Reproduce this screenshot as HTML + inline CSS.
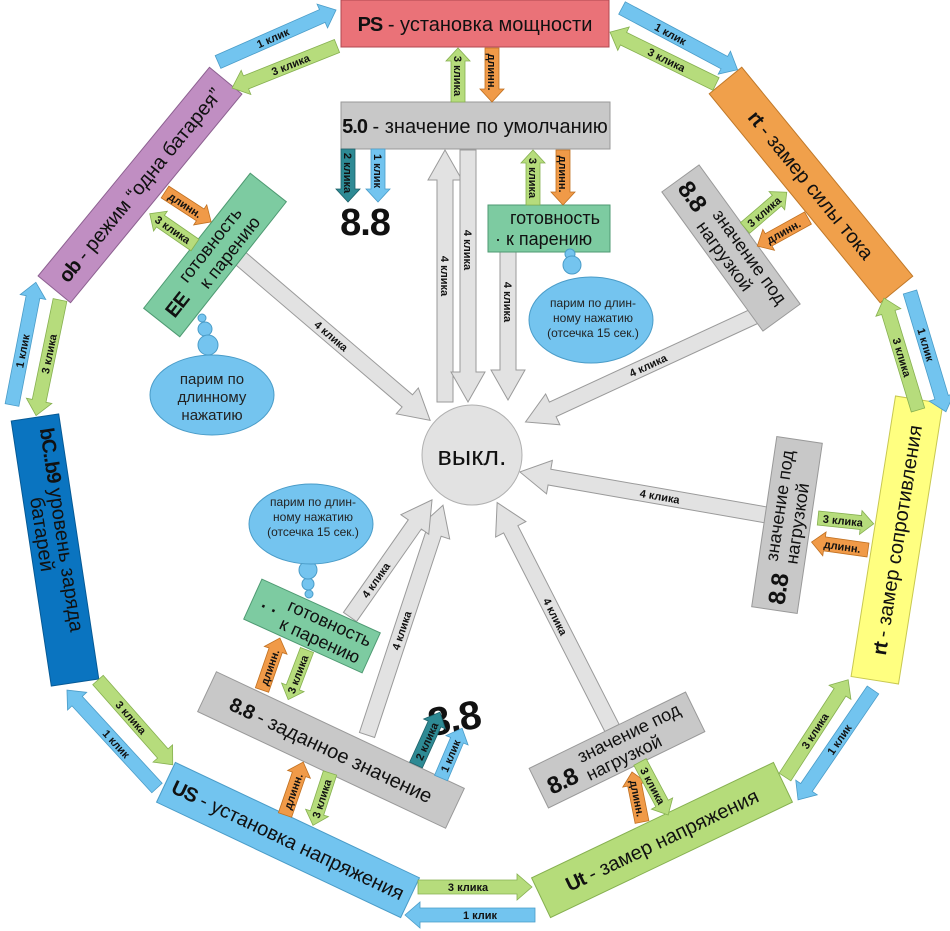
<!DOCTYPE html>
<html><head><meta charset="utf-8"><style>
html,body{margin:0;padding:0;background:#fff;}
svg{display:block;}
text{font-family:"Liberation Sans",sans-serif;}
.n{font-size:20px;fill:#111;}
.s{font-size:18px;fill:#111;}
.d{font-family:"Liberation Sans",sans-serif;font-weight:bold;letter-spacing:-1px;}
.a{font-size:11px;font-weight:bold;fill:#111;}
.bg{fill:#e2e2e2;stroke:#9a9a9a;stroke-width:1;}
.bl{fill:#72c4ef;stroke:#4a9cc8;stroke-width:0.8;}
.gr{fill:#b6dc7c;stroke:#86b050;stroke-width:0.8;}
.or{fill:#f09a48;stroke:#c07020;stroke-width:0.8;}
.te{fill:#2e8a94;stroke:#1c6068;stroke-width:0.8;}
.cl{fill:#74c4ef;stroke:#4a9cc8;stroke-width:1;}
</style></head><body>
<svg width="950" height="931" viewBox="0 0 950 931" xmlns="http://www.w3.org/2000/svg">

<!-- big gray arrows -->
<g transform="translate(445,402) rotate(-90)"><polygon class="bg" points="0,-8 222,-8 222,-17 252,0 222,17 222,8 0,8"/><text class="a" x="126" y="4" text-anchor="middle" transform="rotate(180 126 0)">4 клика</text></g>
<g transform="translate(468,150) rotate(90)"><polygon class="bg" points="0,-8 222,-8 222,-17 252,0 222,17 222,8 0,8"/><text class="a" x="100" y="4" text-anchor="middle">4 клика</text></g>
<g transform="translate(508,252) rotate(90)"><polygon class="bg" points="0,-8 118,-8 118,-17 148,0 118,17 118,8 0,8"/><text class="a" x="50" y="4" text-anchor="middle">4 клика</text></g>
<g transform="translate(240,258) rotate(40.5)"><polygon class="bg" points="0,-8 220,-8 220,-17 250,0 220,17 220,8 0,8"/><text class="a" x="120" y="4" text-anchor="middle">4 клика</text></g>
<g transform="translate(757,315) rotate(155.2)"><polygon class="bg" points="0,-8 225,-8 225,-17 255,0 225,17 225,8 0,8"/><text class="a" x="120" y="4" text-anchor="middle" transform="rotate(180 120 0)">4 клика</text></g>
<g transform="translate(778,517) rotate(189.9)"><polygon class="bg" points="0,-8 232,-8 232,-17 262,0 232,17 232,8 0,8"/><text class="a" x="120" y="4" text-anchor="middle" transform="rotate(180 120 0)">4 клика</text></g>
<g transform="translate(612,728) rotate(-117)"><polygon class="bg" points="0,-8 223,-8 223,-17 253,0 223,17 223,8 0,8"/><text class="a" x="125" y="4" text-anchor="middle" transform="rotate(180 125 0)">4 клика</text></g>
<g transform="translate(367,735) rotate(-71.7)"><polygon class="bg" points="0,-8 212,-8 212,-17 242,0 212,17 212,8 0,8"/><text class="a" x="110" y="4" text-anchor="middle">4 клика</text></g>
<g transform="translate(350,617) rotate(-55)"><polygon class="bg" points="0,-8 113,-8 113,-17 143,0 113,17 113,8 0,8"/><text class="a" x="45" y="4" text-anchor="middle">4 клика</text></g>

<!-- circle -->
<circle cx="472" cy="455" r="50" fill="#e2e2e2" stroke="#b0b0b0"/>
<text x="472" y="465" font-size="27" text-anchor="middle" fill="#111">выкл.</text>

<!-- main nodes -->
<rect x="341" y="0" width="268" height="47" fill="#ea7278" stroke="#b04850"/>
<text class="n" x="475" y="31" text-anchor="middle"><tspan class="d">PS</tspan> - установка мощности</text>

<rect x="341" y="102" width="269" height="47" fill="#c8c8c8" stroke="#999"/>
<text class="n" x="475" y="133" text-anchor="middle"><tspan class="d">5.0</tspan> - значение по умолчанию</text>

<g transform="translate(811,185) rotate(50.7)"><rect x="-135" y="-21" width="270" height="42" fill="#f0a04b" stroke="#c07828"/><text class="n" x="0" y="7" text-anchor="middle"><tspan class="d">rt</tspan> - замер силы тока</text></g>

<g transform="translate(897,540) rotate(-81)"><rect x="-142" y="-24" width="284" height="48" fill="#ffff80" stroke="#c8c850"/><text class="n" x="0" y="7" text-anchor="middle"><tspan class="d">rt</tspan> - замер сопротивления</text></g>

<g transform="translate(662,840) rotate(-25.5)"><rect x="-134" y="-22" width="268" height="44" fill="#b5dc7a" stroke="#86b050"/><text class="n" x="0" y="7" text-anchor="middle"><tspan class="d">Ut</tspan> - замер напряжения</text></g>

<g transform="translate(288,840) rotate(25.3)"><rect x="-135" y="-22" width="270" height="44" fill="#72c4ef" stroke="#4a9cc8"/><text class="n" x="0" y="7" text-anchor="middle"><tspan class="d">US</tspan> - установка напряжения</text></g>

<g transform="translate(55,550) rotate(81.4)"><rect x="-134" y="-24" width="268" height="48" fill="#0a74c0" stroke="#065a96"/><text class="n" x="-122" y="-3"><tspan class="d">bC..b9</tspan> уровень заряда</text><text class="n" x="-55" y="17">батарей</text></g>

<g transform="translate(140,185) rotate(-50.6)"><rect x="-135" y="-21" width="270" height="42" fill="#c08ec2" stroke="#8c6090"/><text class="n" x="0" y="7" text-anchor="middle"><tspan class="d">ob</tspan> - режим “одна батарея”</text></g>

<!-- sub nodes -->
<g transform="translate(215,255) rotate(-51.7)"><rect x="-86" y="-23" width="172" height="46" fill="#7dcba1" stroke="#4e9a72"/><text class="d" x="-75" y="8" font-size="20" fill="#111">EE</text><text class="s" x="-40" y="-4">готовность</text><text class="s" x="-32" y="16">к парению</text></g>

<rect x="488" y="205" width="122" height="47" fill="#7dcba1" stroke="#4e9a72"/>
<text class="s" x="510" y="224">готовность</text>
<text class="s" x="495" y="245">· к парению</text>

<g transform="translate(731,248) rotate(54)"><rect x="-86" y="-23" width="172" height="46" fill="#c8c8c8" stroke="#999"/><text class="d" x="-80" y="9" font-size="24" fill="#111">8.8</text><text class="s" x="-38" y="-4">значение под</text><text class="s" x="-38" y="16">нагрузкой</text></g>

<g transform="translate(787,525) rotate(-81.6)"><rect x="-86" y="-23" width="172" height="46" fill="#c8c8c8" stroke="#999"/><text class="d" x="-80" y="9" font-size="24" fill="#111">8.8</text><text class="s" x="-38" y="-4">значение под</text><text class="s" x="-38" y="16">нагрузкой</text></g>

<g transform="translate(617,750) rotate(-26)"><rect x="-87" y="-22" width="174" height="44" fill="#c8c8c8" stroke="#999"/><text class="d" x="-78" y="12" font-size="24" fill="#111">8.8</text><text class="s" x="-38" y="-4">значение под</text><text class="s" x="-38" y="16">нагрузкой</text></g>

<g transform="translate(331,750) rotate(25.2)"><rect x="-137" y="-22" width="274" height="44" fill="#c8c8c8" stroke="#999"/><text class="n" x="0" y="7" text-anchor="middle"><tspan class="d">8.8</tspan> - заданное значение</text></g>

<g transform="translate(312,626) rotate(24.4)"><rect x="-65" y="-22" width="130" height="44" fill="#7dcba1" stroke="#4e9a72"/><text class="s" x="-55" y="8" font-weight="bold">· ·</text><text class="s" x="-30" y="-4">готовность</text><text class="s" x="-30" y="16">к парению</text></g>

<!-- digits -->
<text class="d" x="365" y="235" font-size="38" text-anchor="middle" fill="#111">8.8</text>
<text class="d" x="454" y="732" font-size="40" text-anchor="middle" fill="#111" transform="rotate(-10 454 718)">8.8</text>

<!-- clouds -->
<g>
<circle class="cl" cx="202" cy="318" r="4"/><circle class="cl" cx="205" cy="329" r="7"/><circle class="cl" cx="208" cy="345" r="10"/>
<ellipse class="cl" cx="212" cy="395" rx="62" ry="40"/>
<text x="212" y="384" font-size="15" text-anchor="middle" fill="#222">парим по</text>
<text x="212" y="402" font-size="15" text-anchor="middle" fill="#222">длинному</text>
<text x="212" y="420" font-size="15" text-anchor="middle" fill="#222">нажатию</text>
</g>
<g>
<circle class="cl" cx="570" cy="254" r="5"/><circle class="cl" cx="572" cy="265" r="9"/>
<ellipse class="cl" cx="591" cy="320" rx="62" ry="43"/>
<text x="593" y="307" font-size="12" text-anchor="middle" fill="#222">парим по длин-</text>
<text x="593" y="322" font-size="12" text-anchor="middle" fill="#222">ному нажатию</text>
<text x="593" y="337" font-size="12" text-anchor="middle" fill="#222">(отсечка 15 сек.)</text>
</g>
<g>
<circle class="cl" cx="309" cy="594" r="4"/><circle class="cl" cx="308" cy="584" r="6"/><circle class="cl" cx="308" cy="570" r="9"/>
<ellipse class="cl" cx="311" cy="524" rx="62" ry="40"/>
<text x="313" y="506" font-size="12" text-anchor="middle" fill="#222">парим по длин-</text>
<text x="313" y="521" font-size="12" text-anchor="middle" fill="#222">ному нажатию</text>
<text x="313" y="536" font-size="12" text-anchor="middle" fill="#222">(отсечка 15 сек.)</text>
</g>

<!-- outer ring arrows -->
<g transform="translate(218,62) rotate(-23.8)"><polygon class="bl" points="0,-7 114,-7 114,-13 129,0 114,13 114,7 0,7"/><text class="a" x="60" y="4" text-anchor="middle">1 клик</text></g>
<g transform="translate(337,46) rotate(158.2)"><polygon class="gr" points="0,-7 98,-7 98,-13 113,0 98,13 98,7 0,7"/><text class="a" x="50" y="4" text-anchor="middle" transform="rotate(180 50 0)">3 клика</text></g>
<g transform="translate(622,8) rotate(28.1)"><polygon class="bl" points="0,-7 116,-7 116,-13 131,0 116,13 116,7 0,7"/><text class="a" x="55" y="4" text-anchor="middle">1 клик</text></g>
<g transform="translate(716,84) rotate(-153.9)"><polygon class="gr" points="0,-7 103,-7 103,-13 118,0 103,13 103,7 0,7"/><text class="a" x="55" y="4" text-anchor="middle" transform="rotate(180 55 0)">3 клика</text></g>
<g transform="translate(910,292) rotate(73.3)"><polygon class="bl" points="0,-7 110,-7 110,-13 125,0 110,13 110,7 0,7"/><text class="a" x="55" y="4" text-anchor="middle">1 клик</text></g>
<g transform="translate(918,410) rotate(-106.9)"><polygon class="gr" points="0,-7 102,-7 102,-13 117,0 102,13 102,7 0,7"/><text class="a" x="55" y="4" text-anchor="middle" transform="rotate(180 55 0)">3 клика</text></g>
<g transform="translate(873,690) rotate(124.3)"><polygon class="bl" points="0,-7 118,-7 118,-13 133,0 118,13 118,7 0,7"/><text class="a" x="60" y="4" text-anchor="middle" transform="rotate(180 60 0)">1 клик</text></g>
<g transform="translate(785,777) rotate(-57)"><polygon class="gr" points="0,-7 101,-7 101,-13 116,0 101,13 101,7 0,7"/><text class="a" x="55" y="4" text-anchor="middle">3 клика</text></g>
<g transform="translate(535,915) rotate(180)"><polygon class="bl" points="0,-7 115,-7 115,-13 130,0 115,13 115,7 0,7"/><text class="a" x="55" y="4" text-anchor="middle" transform="rotate(180 55 0)">1 клик</text></g>
<g transform="translate(418,887)"><polygon class="gr" points="0,-7 99,-7 99,-13 114,0 99,13 99,7 0,7"/><text class="a" x="50" y="4" text-anchor="middle">3 клика</text></g>
<g transform="translate(157,788) rotate(-132.6)"><polygon class="bl" points="0,-7 118,-7 118,-13 133,0 118,13 118,7 0,7"/><text class="a" x="60" y="4" text-anchor="middle" transform="rotate(180 60 0)">1 клик</text></g>
<g transform="translate(98,680) rotate(48.6)"><polygon class="gr" points="0,-7 98,-7 98,-13 113,0 98,13 98,7 0,7"/><text class="a" x="50" y="4" text-anchor="middle">3 клика</text></g>
<g transform="translate(12,405) rotate(-79)"><polygon class="bl" points="0,-7 110,-7 110,-13 125,0 110,13 110,7 0,7"/><text class="a" x="55" y="4" text-anchor="middle">1 клик</text></g>
<g transform="translate(60,300) rotate(101.7)"><polygon class="gr" points="0,-7 103,-7 103,-13 118,0 103,13 103,7 0,7"/><text class="a" x="55" y="4" text-anchor="middle" transform="rotate(180 55 0)">3 клика</text></g>

<!-- inner small arrows -->
<g transform="translate(458,102) rotate(-90)"><polygon class="gr" points="0,-7 41,-7 41,-12 54,0 41,12 41,7 0,7"/><text class="a" x="26" y="4" text-anchor="middle" transform="rotate(180 26 0)">3 клика</text></g>
<g transform="translate(492,48) rotate(90)"><polygon class="or" points="0,-7 41,-7 41,-12 54,0 41,12 41,7 0,7"/><text class="a" x="24" y="4" text-anchor="middle">длинн.</text></g>
<g transform="translate(348,149) rotate(90)"><polygon class="te" points="0,-7 40,-7 40,-12 53,0 40,12 40,7 0,7"/><text class="a" x="24" y="4" text-anchor="middle">2 клика</text></g>
<g transform="translate(378,149) rotate(90)"><polygon class="bl" points="0,-7 40,-7 40,-12 53,0 40,12 40,7 0,7"/><text class="a" x="22" y="4" text-anchor="middle">1 клик</text></g>
<g transform="translate(533,205) rotate(-90)"><polygon class="gr" points="0,-7 42,-7 42,-12 55,0 42,12 42,7 0,7"/><text class="a" x="27" y="4" text-anchor="middle" transform="rotate(180 27 0)">3 клика</text></g>
<g transform="translate(563,150) rotate(90)"><polygon class="or" points="0,-7 42,-7 42,-12 55,0 42,12 42,7 0,7"/><text class="a" x="24" y="4" text-anchor="middle">длинн.</text></g>
<g transform="translate(165,192) rotate(33)"><polygon class="or" points="0,-7 42,-7 42,-12 55,0 42,12 42,7 0,7"/><text class="a" x="24" y="4" text-anchor="middle">длинн.</text></g>
<g transform="translate(195,245) rotate(214.6)"><polygon class="gr" points="0,-7 42,-7 42,-12 55,0 42,12 42,7 0,7"/><text class="a" x="27" y="4" text-anchor="middle" transform="rotate(180 27 0)">3 клика</text></g>
<g transform="translate(745,228) rotate(-40.6)"><polygon class="gr" points="0,-7 42,-7 42,-12 55,0 42,12 42,7 0,7"/><text class="a" x="25" y="4" text-anchor="middle">3 клика</text></g>
<g transform="translate(808,218) rotate(151)"><polygon class="or" points="0,-7 45,-7 45,-12 58,0 45,12 45,7 0,7"/><text class="a" x="28" y="4" text-anchor="middle" transform="rotate(180 28 0)">длинн.</text></g>
<g transform="translate(818,518) rotate(6)"><polygon class="gr" points="0,-7 43,-7 43,-12 56,0 43,12 43,7 0,7"/><text class="a" x="25" y="4" text-anchor="middle">3 клика</text></g>
<g transform="translate(868,550) rotate(188)"><polygon class="or" points="0,-7 44,-7 44,-12 57,0 44,12 44,7 0,7"/><text class="a" x="26" y="4" text-anchor="middle" transform="rotate(180 26 0)">длинн.</text></g>
<g transform="translate(642,822) rotate(-101.3)"><polygon class="or" points="0,-7 38,-7 38,-12 51,0 38,12 38,7 0,7"/><text class="a" x="24" y="4" text-anchor="middle" transform="rotate(180 24 0)">длинн.</text></g>
<g transform="translate(640,762) rotate(62)"><polygon class="gr" points="0,-7 47,-7 47,-12 60,0 47,12 47,7 0,7"/><text class="a" x="27" y="4" text-anchor="middle">3 клика</text></g>
<g transform="translate(262,690) rotate(-71)"><polygon class="or" points="0,-7 42,-7 42,-12 55,0 42,12 42,7 0,7"/><text class="a" x="24" y="4" text-anchor="middle">длинн.</text></g>
<g transform="translate(307,650) rotate(110.8)"><polygon class="gr" points="0,-7 40,-7 40,-12 53,0 40,12 40,7 0,7"/><text class="a" x="26" y="4" text-anchor="middle" transform="rotate(180 26 0)">3 клика</text></g>
<g transform="translate(285,815) rotate(-71)"><polygon class="or" points="0,-7 43,-7 43,-12 56,0 43,12 43,7 0,7"/><text class="a" x="25" y="4" text-anchor="middle">длинн.</text></g>
<g transform="translate(330,773) rotate(108)"><polygon class="gr" points="0,-7 42,-7 42,-12 55,0 42,12 42,7 0,7"/><text class="a" x="27" y="4" text-anchor="middle" transform="rotate(180 27 0)">3 клика</text></g>
<g transform="translate(416,765) rotate(-65.6)"><polygon class="te" points="0,-7 45,-7 45,-12 58,0 45,12 45,7 0,7"/><text class="a" x="26" y="4" text-anchor="middle">2 клика</text></g>
<g transform="translate(441,778) rotate(-67)"><polygon class="bl" points="0,-7 41,-7 41,-12 54,0 41,12 41,7 0,7"/><text class="a" x="24" y="4" text-anchor="middle">1 клик</text></g>

</svg>
</body></html>
